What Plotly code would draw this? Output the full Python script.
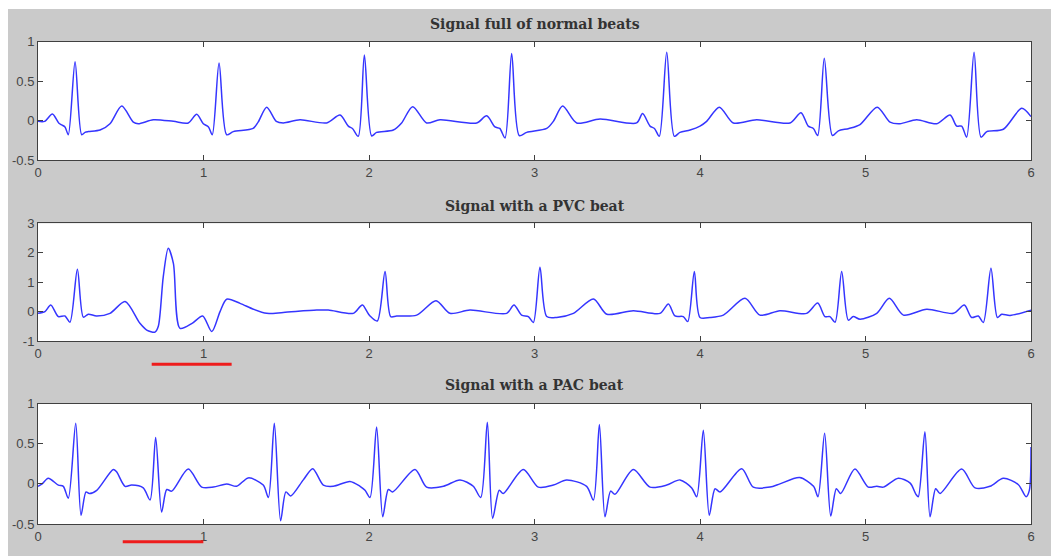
import plotly.graph_objects as go
from plotly.subplots import make_subplots

# ---------------- data ----------------
titles = ["Signal full of normal beats", "Signal with a PVC beat", "Signal with a PAC beat"]

normal_t = [0, 0.04, 0.087, 0.125, 0.143, 0.163, 0.183, 0.224, 0.264, 0.284, 0.304, 0.375, 0.435, 0.506, 0.576, 0.606,
            0.697, 0.818, 0.908, 0.959,
            0.999, 1.03, 1.053, 1.094, 1.140, 1.18, 1.30, 1.33, 1.382, 1.44, 1.482, 1.583, 1.744, 1.825,
            1.875, 1.90, 1.935, 1.972, 2.016, 2.046, 2.147, 2.197, 2.264, 2.348, 2.429, 2.651, 2.711,
            2.761, 2.79, 2.822, 2.862, 2.908, 2.953, 3.074, 3.114, 3.170, 3.255, 3.396, 3.617, 3.653,
            3.698, 3.725, 3.754, 3.799, 3.845, 3.879, 3.94, 4.0, 4.04, 4.117, 4.201, 4.342, 4.544, 4.610,
            4.654, 4.685, 4.711, 4.751, 4.800, 4.836, 4.90, 4.967, 5.071, 5.148, 5.208, 5.309, 5.430, 5.511,
            5.551, 5.581, 5.611, 5.656, 5.698, 5.733, 5.833, 5.944, 6.0]
normal_v = [-0.01, -0.01, 0.084, -0.03, -0.056, -0.08, -0.18, 0.747, -0.18, -0.15, -0.14, -0.12, -0.04, 0.185, -0.02, -0.04,
            0.01, -0.01, -0.03, 0.08,
            -0.04, -0.08, -0.18, 0.73, -0.18, -0.14, -0.1, -0.02, 0.17, -0.01, -0.03, 0.01, -0.03, 0.07,
            -0.07, -0.1, -0.2, 0.83, -0.195, -0.15, -0.12, -0.03, 0.176, -0.03, 0.01, -0.03, 0.06,
            -0.08, -0.1, -0.22, 0.85, -0.19, -0.15, -0.1, -0.01, 0.185, -0.03, 0.02, -0.03, 0.09,
            -0.07, -0.1, -0.2, 0.865, -0.2, -0.15, -0.12, -0.07, -0.01, 0.17, -0.03, 0.01, -0.03, 0.1,
            -0.07, -0.1, -0.19, 0.79, -0.19, -0.13, -0.1, -0.05, 0.17, -0.02, -0.04, 0.01, -0.04, 0.07,
            -0.07, -0.07, -0.21, 0.865, -0.21, -0.14, -0.11, 0.155, 0.05]

pvc_t = [0, 0.042, 0.077, 0.123, 0.163, 0.193, 0.238, 0.274, 0.304, 0.354, 0.435, 0.526, 0.616, 0.657, 0.707,
         0.727, 0.757, 0.787, 0.818, 0.858, 0.931, 0.995, 1.050, 1.100, 1.140, 1.221, 1.301, 1.382, 1.482,
         1.684, 1.754, 1.905, 1.946, 1.961, 2.006, 2.050, 2.097, 2.131, 2.167, 2.288, 2.405, 2.489, 2.610,
         2.832, 2.876, 2.922, 2.963, 2.993, 3.033, 3.074, 3.134, 3.235, 3.356, 3.437, 3.597, 3.758, 3.809,
         3.849, 3.899, 3.926, 3.966, 4.0, 4.060, 4.141, 4.272, 4.362, 4.483, 4.644, 4.711, 4.755, 4.785,
         4.816, 4.856, 4.896, 4.926, 4.967, 5.068, 5.144, 5.229, 5.370, 5.531, 5.597, 5.641, 5.682, 5.712,
         5.758, 5.797, 5.823, 5.873, 6.0]
pvc_v = [-0.06, 0.0, 0.22, -0.17, -0.15, -0.36, 1.44, -0.19, -0.09, -0.15, -0.06, 0.34, -0.4, -0.63, -0.7,
         -0.5, 1.19, 2.15, 1.64, -0.57, -0.4, -0.15, -0.68, 0.0, 0.42, 0.28, 0.08, -0.06, -0.03,
         0.05, 0.05, -0.06, 0.17, 0.22, -0.15, -0.32, 1.36, -0.17, -0.15, -0.12, 0.37, -0.06, 0.05,
         -0.06, 0.22, -0.12, -0.17, -0.37, 1.51, -0.17, -0.2, -0.06, 0.43, -0.09, 0.03, -0.06, 0.26,
         -0.15, -0.17, -0.34, 1.36, -0.2, -0.2, -0.12, 0.45, -0.12, 0.03, -0.06, 0.29, -0.17, -0.17,
         -0.36, 1.36, -0.29, -0.17, -0.26, -0.06, 0.45, -0.12, 0.08, -0.06, 0.22, -0.2, -0.15, -0.37,
         1.47, -0.2, -0.09, -0.13, 0.05]

pac_t = [0, 0.025, 0.062, 0.123, 0.153, 0.183, 0.228, 0.260, 0.290, 0.310, 0.355, 0.455, 0.475, 0.526, 0.566,
         0.636, 0.677, 0.711, 0.747, 0.778, 0.808, 0.908, 0.989, 1.06, 1.140, 1.2, 1.271, 1.361, 1.392,
         1.428, 1.466, 1.498, 1.527, 1.603, 1.660, 1.724, 1.784, 1.885, 1.946, 1.976, 2.006, 2.046, 2.083,
         2.117, 2.143, 2.278, 2.348, 2.45, 2.550, 2.630, 2.675, 2.715, 2.747, 2.787, 2.811, 2.932, 3.023,
         3.114, 3.194, 3.315, 3.356, 3.392, 3.426, 3.460, 3.486, 3.597, 3.698, 3.799, 3.879, 3.950, 3.980,
         4.020, 4.056, 4.091, 4.121, 4.252, 4.322, 4.423, 4.483, 4.602, 4.686, 4.713, 4.753, 4.790, 4.824,
         4.850, 4.936, 5.017, 5.068, 5.108, 5.198, 5.270, 5.305, 5.319, 5.359, 5.390, 5.424, 5.450, 5.581,
         5.662, 5.752, 5.833, 5.924, 5.970, 5.990, 6.0]
pac_v = [-0.03, 0.0, 0.07, -0.015, -0.03, -0.18, 0.755, -0.39, -0.1, -0.12, -0.08, 0.18, 0.15, -0.03, -0.015,
         -0.05, -0.2, 0.58, -0.35, -0.07, -0.09, 0.185, -0.04, -0.04, 0.0, -0.03, 0.075, -0.015, -0.17,
         0.755, -0.46, -0.1, -0.15, 0.05, 0.19, -0.015, -0.03, 0.03, -0.03, -0.08, -0.17, 0.71, -0.41,
         -0.07, -0.1, 0.18, -0.04, -0.03, 0.05, -0.03, -0.17, 0.77, -0.43, -0.08, -0.12, 0.18, -0.04,
         -0.015, 0.05, -0.03, -0.2, 0.74, -0.41, -0.09, -0.13, 0.18, -0.04, -0.015, 0.05, -0.05, -0.16,
         0.67, -0.39, -0.06, -0.1, 0.19, -0.04, -0.04, 0.0, 0.08, -0.03, -0.16, 0.63, -0.4, -0.06,
         -0.12, 0.185, -0.04, -0.03, -0.04, 0.07, 0.01, -0.13, -0.16, 0.65, -0.41, -0.06, -0.12, 0.185,
         -0.05, -0.03, 0.07, -0.01, -0.16, -0.08, 0.46]

x_ticks = [0, 1, 2, 3, 4, 5, 6]
y_ticks = [[-0.5, 0, 0.5, 1], [-1, 0, 1, 2, 3], [-0.5, 0, 0.5, 1]]
y_tick_labels = [["-0.5", "0", "0.5", "1"], ["-1", "0", "1", "2", "3"], ["-0.5", "0", "0.5", "1"]]
y_ranges = [[-0.5, 1], [-1, 3], [-0.5, 1]]
# abnormal-beat markers (time spans, seconds)
pvc_marker = [0.687, 1.170]
pac_marker = [0.512, 0.999]

# ---------------- figure ----------------
W, H = 1051, 556
ML, MR = 38, 20
PW = W - ML - MR

def py(px):
    return 1 - px / H

def pxp(px):
    return (px - ML) / PW

fig = make_subplots(rows=3, cols=1)
domains = [[py(160), py(41.7)], [py(341), py(223.3)], [py(524), py(403.7)]]

series = [(normal_t, normal_v), (pvc_t, pvc_v), (pac_t, pac_v)]
for i, (t, v) in enumerate(series):
    fig.add_trace(go.Scatter(x=t, y=v, mode="lines",
                             line=dict(color="#3535ff", width=1.5, shape="spline", smoothing=0.8),
                             showlegend=False, hoverinfo="skip"), row=i + 1, col=1)

axis_col = "#404040"
tick_font = dict(family="Liberation Sans, Arial, sans-serif", size=13, color="#454545")
for i in range(3):
    n = i + 1
    fig.update_xaxes(range=[0, 6], tickvals=x_ticks, ticktext=[str(v) for v in x_ticks],
                     showgrid=False, zeroline=False, showline=True, linecolor=axis_col, linewidth=1,
                     mirror="allticks", ticks="inside", ticklen=5, tickcolor=axis_col,
                     tickfont=tick_font, automargin=False, row=n, col=1)
    fig.update_yaxes(range=y_ranges[i], tickvals=y_ticks[i], ticktext=y_tick_labels[i],
                     domain=domains[i],
                     showgrid=False, zeroline=False, showline=True, linecolor=axis_col, linewidth=1,
                     mirror="allticks", ticks="inside", ticklen=5, tickcolor=axis_col,
                     tickfont=tick_font, automargin=False, row=n, col=1)

title_y = [py(24), py(206), py(385)]
for i, txt in enumerate(titles):
    fig.add_annotation(text=txt, x=0.5, y=title_y[i], xref="paper", yref="paper",
                       showarrow=False, xanchor="center", yanchor="middle",
                       font=dict(family="DejaVu Serif, serif", size=14, color="#333333", weight="bold"))

shapes = []
# white border strips (top and left)
shapes.append(dict(type="rect", xref="paper", yref="paper", x0=pxp(-20), x1=pxp(8), y0=py(600), y1=py(-20),
                   fillcolor="white", line=dict(width=0), layer="above"))
shapes.append(dict(type="rect", xref="paper", yref="paper", x0=pxp(-20), x1=pxp(1100), y0=py(9), y1=py(-20),
                   fillcolor="white", line=dict(width=0), layer="above"))
# red markers
shapes.append(dict(type="line", xref="x2", yref="paper", x0=pvc_marker[0], x1=pvc_marker[1],
                   y0=py(364.3), y1=py(364.3), line=dict(color="#ee1c1c", width=3)))
shapes.append(dict(type="line", xref="x3", yref="paper", x0=pac_marker[0], x1=pac_marker[1],
                   y0=py(541.7), y1=py(541.7), line=dict(color="#ee1c1c", width=3)))

fig.update_layout(width=W, height=H, margin=dict(l=ML, r=MR, t=0, b=0, autoexpand=False),
                  paper_bgcolor="#cacaca", plot_bgcolor="white", shapes=shapes)

fig.write_html("out.html", config={"displayModeBar": False},
               post_script="document.body.style.margin='0';document.body.style.overflow='hidden';")
